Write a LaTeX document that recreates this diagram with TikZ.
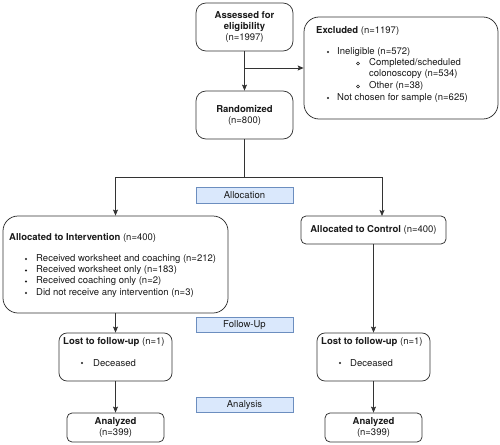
\documentclass[tikz,border=0pt]{standalone}
\usepackage{fontspec}
\setmainfont{TeX Gyre Heros}
\usetikzlibrary{arrows.meta}
\definecolor{edge}{HTML}{333333}
\definecolor{lblfill}{HTML}{DAE8FC}
\definecolor{lbldraw}{HTML}{6C8EBF}
\definecolor{txt}{HTML}{1A1A1A}
\begin{document}
\begin{tikzpicture}[x=1pt,y=-1pt, font=\fontsize{9.5}{11}\selectfont,
 box/.style={draw=edge, line width=0.75pt, fill=white, inner sep=0pt, text=txt},
 lbl/.style={draw=lbldraw, fill=lblfill, line width=0.75pt, minimum width=97pt, minimum height=15.5pt, inner sep=0pt, text=txt},
 arr/.style={draw=edge, line width=0.75pt, -{Stealth[length=6pt,width=5pt,inset=1.2pt]}},
 ln/.style={draw=edge, line width=0.75pt},
 tl/.style={anchor=west, inner sep=0pt, text=txt},
 dot/.style={circle, fill=txt, inner sep=0pt, minimum size=2.2pt},
 odot/.style={circle, draw=txt, line width=0.5pt, inner sep=0pt, minimum size=3pt}]
\useasboundingbox (0,0) rectangle (500,444);
\fill[white] (0,0) rectangle (500,444);

% top
\node[box, rounded corners=10pt, minimum width=97pt, minimum height=48pt, align=center] (assess) at (244.5,27) {\textbf{Assessed for}\\\textbf{eligibility}\\(n=1997)};
\node[box, rounded corners=15pt, minimum width=194pt, minimum height=102pt] (excl) at (401,68) {};
\node[tl] (exT) at (316,31) {\textbf{Excluded} (n=1197)};
\node[dot] (exb1) at (328,52) {};
\node[tl] (ex1) at (337,52) {Ineligible (n=572)};
\node[odot] (exb2) at (358,63.5) {};
\node[tl] (ex2) at (369,63) {Completed/scheduled};
\node[tl] (ex3) at (369,74.5) {colonoscopy (n=534)};
\node[odot] (exb4) at (358,86.5) {};
\node[tl] (ex4) at (369,86) {Other (n=38)};
\node[dot] (exb5) at (328,98) {};
\node[tl] (ex5) at (337,98) {Not chosen for sample (n=625)};

\node[box, rounded corners=10pt, minimum width=97pt, minimum height=48pt, align=center] (rand) at (244.5,115) {\textbf{Randomized}\\(n=800)};

% labels
\node[lbl] (alloc) at (244.5,195.5) {Allocation};
\node[lbl] (follow) at (244.5,325) {Follow-Up};
\node[lbl] (analysis) at (244.5,405) {Analysis};

% intervention
\node[box, rounded corners=15pt, minimum width=225pt, minimum height=97pt] (interv) at (115.5,264.5) {};
\node[tl] (inT) at (9,238) {\textbf{Allocated to Intervention} (n=400)};
\node[dot] (inb1) at (26,259) {};
\node[tl] (in1) at (36,259) {Received worksheet and coaching (n=212)};
\node[dot] (inb2) at (26,270.5) {};
\node[tl] (in2) at (36,270.5) {Received worksheet only (n=183)};
\node[dot] (inb3) at (26,281.5) {};
\node[tl] (in3) at (36,281.5) {Received coaching only (n=2)};
\node[dot] (inb4) at (26,293) {};
\node[tl] (in4) at (36,293) {Did not receive any intervention (n=3)};

% control
\node[box, rounded corners=5pt, minimum width=145pt, minimum height=28pt] (ctrl) at (373.5,230) {\textbf{Allocated to Control} (n=400)};

% lost
\node[box, rounded corners=8pt, minimum width=113pt, minimum height=48pt] (lostL) at (115.5,357) {};
\node[tl] (lostLT) at (63,342) {\textbf{Lost to follow-up} (n=1)};
\node[dot] (lostLb) at (82,363) {};
\node[tl] (lostL1) at (93,363) {Deceased};
\node[box, rounded corners=8pt, minimum width=113pt, minimum height=48pt] (lostR) at (373.5,357) {};
\node[tl] (lostRT) at (321,342) {\textbf{Lost to follow-up} (n=1)};
\node[dot] (lostRb) at (340,363) {};
\node[tl] (lostR1) at (350,363) {Deceased};

% analyzed
\node[box, rounded corners=5pt, minimum width=97pt, minimum height=29pt, align=center] (anL) at (115.5,427.5) {\textbf{Analyzed}\\(n=399)};
\node[box, rounded corners=5pt, minimum width=97pt, minimum height=29pt, align=center] (anR) at (373.5,427.5) {\textbf{Analyzed}\\(n=399)};

% connectors
\draw[arr] (assess) -- (rand);
\coordinate (br) at (assess.south |- excl.west);
\draw[arr] (br) -- (excl.west);
\coordinate (sp) at (244.5,177);
\coordinate (ctrlIn) at (382,216);
\draw[ln] (rand) -- (sp);
\draw[arr] (sp) -| (interv.north);
\draw[arr] (sp) -| (ctrlIn);
\draw[arr] (interv) -- (lostL);
\draw[arr] (ctrl) -- (lostR);
\draw[arr] (lostL) -- (anL);
\draw[arr] (lostR) -- (anR);
\end{tikzpicture}
\end{document}
